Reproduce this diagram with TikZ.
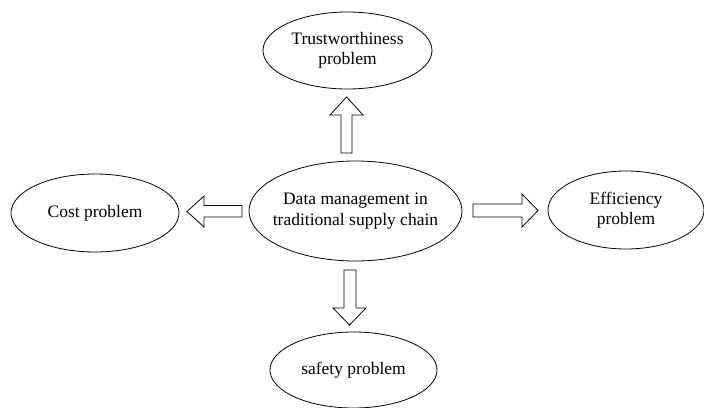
\documentclass[tikz,border=0pt]{standalone}
\usepackage{fontspec}
\setmainfont{Liberation Serif}
\usetikzlibrary{shapes.geometric}
\begin{document}
\begin{tikzpicture}[x=1pt,y=-1pt,
  label/.style={inner sep=0pt,align=center,font=\fontsize{17.5}{20.5}\selectfont},
  oval/.style={thick},
  blockarrow/.style={draw,thick,fill=white,line join=miter}]
\useasboundingbox (0,0) rectangle (704,407);
\node[label] (c) at (355.5,211) {Data management in\\traditional supply chain};
\node[label] (t) at (347.5,50.5) {Trustworthiness\\problem};
\node[label] (k) at (95,213) {Cost problem};
\node[label] (e) at (626,210) {Efficiency\\problem};
\node[label] (s) at (353.5,370) {safety problem};
\draw[oval] (c.center) ellipse [x radius=106.5pt, y radius=50pt];
\draw[oval] (t.center) ellipse [x radius=84.5pt, y radius=38.5pt];
\draw[oval] (k.center) ellipse [x radius=84pt, y radius=39pt];
\draw[oval] (e.center) ellipse [x radius=78pt, y radius=39pt];
\draw[oval] (s.center) ellipse [x radius=83.5pt, y radius=38pt];
% up arrow
\draw[blockarrow] (341,153) -- (341,115) -- (330,115) -- (346.5,97) -- (363,115) -- (352,115) -- (352,153) -- cycle;
% left arrow
\draw[blockarrow] (242,205.5) -- (204,205.5) -- (204,196) -- (187,211.5) -- (204,227) -- (204,217) -- (242,217) -- cycle;
% right arrow
\draw[blockarrow] (473,204) -- (522,204) -- (522,194) -- (538,210.5) -- (522,227) -- (522,217) -- (473,217) -- cycle;
% down arrow
\draw[blockarrow] (344,270) -- (344,308) -- (333,308) -- (349.5,325) -- (366,308) -- (356,308) -- (356,270) -- cycle;
\end{tikzpicture}
\end{document}
